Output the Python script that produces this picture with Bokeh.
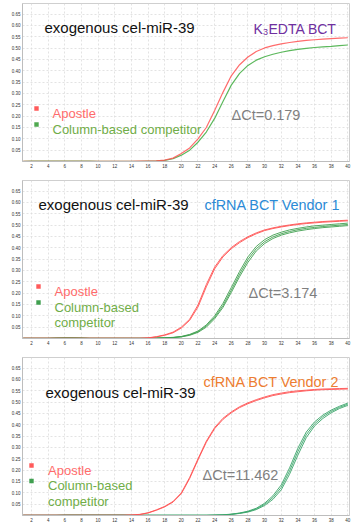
import math
from bokeh.plotting import figure
from bokeh.models import Range1d, Label, FixedTicker, BoxAnnotation
from bokeh.layouts import column
from bokeh.embed import file_html
from bokeh.resources import INLINE

# ---------------- data ----------------
cycles = list(range(1, 41))
x_ticks = list(range(2, 41, 2))
y_ticks = [0.05, 0.10, 0.15, 0.20, 0.25, 0.30, 0.35, 0.40, 0.45, 0.50, 0.55, 0.60, 0.65]

# Panel 1: K3EDTA BCT
p1_apostle = [0.001, 0.001, 0.001, 0.001, 0.001, 0.001, 0.001, 0.001, 0.001, 0.001,
              0.001, 0.001, 0.001, 0.001, 0.002, 0.002, 0.003, 0.006, 0.015, 0.035,
              0.060, 0.100, 0.150, 0.225, 0.305, 0.378, 0.427, 0.461, 0.485, 0.501,
              0.511, 0.519, 0.525, 0.530, 0.534, 0.537, 0.540, 0.542, 0.544, 0.546]
p1_column = [0.001, 0.002, 0.002, 0.002, 0.002, 0.002, 0.002, 0.002, 0.002, 0.001,
             0.001, 0.001, 0.001, 0.001, 0.001, 0.002, 0.003, 0.005, 0.012, 0.028,
             0.050, 0.085, 0.130, 0.190, 0.265, 0.337, 0.389, 0.424, 0.447, 0.462,
             0.473, 0.482, 0.489, 0.495, 0.499, 0.503, 0.506, 0.508, 0.511, 0.514]

# Panel 2: cfRNA BCT Vendor 1
p2_apostle_a = [0.001, 0.001, 0.001, 0.001, 0.001, 0.001, 0.001, 0.001, 0.001, 0.001,
                0.001, 0.001, 0.001, 0.001, 0.001, 0.003, 0.008, 0.016, 0.028, 0.050,
                0.085, 0.148, 0.238, 0.315, 0.366, 0.401, 0.428, 0.449, 0.466, 0.479,
                0.488, 0.495, 0.501, 0.506, 0.510, 0.513, 0.516, 0.518, 0.520, 0.522]
p2_apostle_b = [0.001, 0.001, 0.001, 0.001, 0.001, 0.001, 0.001, 0.001, 0.001, 0.001,
                0.001, 0.001, 0.001, 0.001, 0.001, 0.002, 0.007, 0.014, 0.025, 0.046,
                0.080, 0.139, 0.228, 0.307, 0.360, 0.396, 0.423, 0.445, 0.462, 0.476,
                0.485, 0.492, 0.498, 0.503, 0.507, 0.510, 0.513, 0.515, 0.517, 0.519]
p2_column_a = [0.001, 0.001, 0.001, 0.001, 0.002, 0.003, 0.003, 0.002, 0.001, 0.001,
               0.001, 0.001, 0.001, 0.001, 0.001, 0.001, 0.002, 0.003, 0.005, 0.009,
               0.018, 0.033, 0.060, 0.100, 0.155, 0.225, 0.296, 0.360, 0.406, 0.436,
               0.456, 0.469, 0.479, 0.486, 0.492, 0.497, 0.500, 0.503, 0.506, 0.509]
p2_column_b = [0.001, 0.001, 0.001, 0.001, 0.002, 0.003, 0.003, 0.002, 0.001, 0.001,
               0.001, 0.001, 0.001, 0.001, 0.001, 0.001, 0.002, 0.003, 0.004, 0.008,
               0.016, 0.030, 0.055, 0.093, 0.145, 0.213, 0.284, 0.348, 0.396, 0.427,
               0.448, 0.462, 0.472, 0.480, 0.486, 0.490, 0.494, 0.497, 0.500, 0.503]
p2_column_c = [0.001, 0.001, 0.001, 0.001, 0.002, 0.002, 0.002, 0.002, 0.001, 0.001,
               0.001, 0.001, 0.001, 0.001, 0.001, 0.001, 0.002, 0.003, 0.004, 0.007,
               0.014, 0.027, 0.050, 0.087, 0.137, 0.203, 0.273, 0.336, 0.386, 0.419,
               0.441, 0.456, 0.466, 0.474, 0.480, 0.485, 0.489, 0.492, 0.495, 0.498]

# Panel 3: cfRNA BCT Vendor 2
p3_apostle_a = [0.001, 0.001, 0.001, 0.001, 0.001, 0.001, 0.001, 0.001, 0.001, 0.001,
                0.001, 0.001, 0.001, 0.002, 0.005, 0.012, 0.025, 0.040, 0.062, 0.100,
                0.168, 0.250, 0.328, 0.388, 0.429, 0.457, 0.480, 0.497, 0.511, 0.523,
                0.533, 0.540, 0.546, 0.550, 0.553, 0.556, 0.558, 0.559, 0.560, 0.561]
p3_apostle_b = [0.001, 0.001, 0.001, 0.001, 0.001, 0.001, 0.001, 0.001, 0.001, 0.001,
                0.001, 0.001, 0.001, 0.002, 0.004, 0.011, 0.023, 0.038, 0.059, 0.096,
                0.163, 0.245, 0.323, 0.383, 0.424, 0.453, 0.476, 0.493, 0.507, 0.519,
                0.529, 0.536, 0.542, 0.546, 0.550, 0.553, 0.555, 0.556, 0.557, 0.558]
p3_column_a = [0.001, 0.001, 0.001, 0.001, 0.001, 0.002, 0.002, 0.002, 0.002, 0.002,
               0.002, 0.002, 0.002, 0.001, 0.001, 0.001, 0.001, 0.001, 0.001, 0.001,
               0.001, 0.001, 0.001, 0.002, 0.003, 0.006, 0.011, 0.019, 0.032, 0.054,
               0.087, 0.135, 0.210, 0.297, 0.368, 0.413, 0.443, 0.465, 0.482, 0.496]
p3_column_b = [0.001, 0.001, 0.001, 0.001, 0.001, 0.002, 0.002, 0.002, 0.002, 0.002,
               0.002, 0.002, 0.002, 0.001, 0.001, 0.001, 0.001, 0.001, 0.001, 0.001,
               0.001, 0.001, 0.001, 0.002, 0.003, 0.005, 0.010, 0.017, 0.029, 0.049,
               0.079, 0.124, 0.196, 0.282, 0.356, 0.404, 0.436, 0.459, 0.477, 0.491]
p3_column_c = [0.001, 0.001, 0.001, 0.001, 0.001, 0.001, 0.001, 0.001, 0.001, 0.001,
               0.001, 0.001, 0.001, 0.001, 0.001, 0.001, 0.001, 0.001, 0.001, 0.001,
               0.001, 0.001, 0.001, 0.001, 0.002, 0.005, 0.009, 0.015, 0.026, 0.044,
               0.071, 0.113, 0.182, 0.266, 0.343, 0.395, 0.428, 0.453, 0.472, 0.486]

titles = ["exogenous cel-miR-39"] * 3
conditions = ["EDTA BCT", "cfRNA BCT Vendor 1", "cfRNA BCT Vendor 2"]
delta_ct = ["ΔCt=0.179", "ΔCt=3.174", "ΔCt=11.462"]
legend_names = ["Apostle", "Column-based competitor"]
x_title = "Cycle"
y_title = "ΔRn"

# ---------------- layout constants ----------------
W, H = 352, 177
FL, FR, FT, FB = 22, 349, 3, 161       # frame edges in panel-local pixels
XR = (0.92, 40.2)
YR = (0.0, 0.697)
FONT = "Liberation Sans"


def dx(px):
    return XR[0] + (px - FL) * (XR[1] - XR[0]) / (FR - FL)


def dy(py):
    return YR[0] + (FB - py) * (YR[1] - YR[0]) / (FB - FT)


def txt(p, x, y, text, size, color, align="left", baseline="alphabetic", angle=0.0):
    p.add_layout(Label(x=dx(x), y=dy(y), text=text, text_font=FONT,
                       text_font_size=f"{size}px", text_color=color,
                       text_align=align, text_baseline=baseline, angle=angle))


def square(p, cx, cy, color, s=2.2):
    p.add_layout(BoxAnnotation(left=dx(cx - s), right=dx(cx + s),
                               bottom=dy(cy + s), top=dy(cy - s),
                               fill_color=color, fill_alpha=1.0, line_alpha=0.0))


def make_panel():
    p = figure(width=W, height=H, output_backend="svg", toolbar_location=None,
               x_range=Range1d(*XR), y_range=Range1d(*YR),
               min_border_left=FL, min_border_right=W - FR,
               min_border_top=FT, min_border_bottom=H - FB)
    p.outline_line_color = "#cfcfcf"
    p.background_fill_color = "white"
    p.border_fill_color = "white"
    for ax in (p.xaxis[0], p.yaxis[0]):
        ax.major_label_text_font = FONT
        ax.major_label_text_font_size = "4.5px"
        ax.major_label_text_color = "#333333"
        ax.axis_line_color = "#bdbdbd"
        ax.major_tick_line_color = None
        ax.minor_tick_line_color = None
        ax.major_tick_out = 0
        ax.major_tick_in = 0
        ax.minor_tick_out = 0
        ax.minor_tick_in = 0
        ax.major_label_standoff = 2
        ax.axis_label = None
    p.xaxis.ticker = FixedTicker(ticks=x_ticks)
    p.yaxis.ticker = FixedTicker(ticks=y_ticks)
    p.xaxis.major_label_overrides = {t: str(t) for t in x_ticks}
    p.yaxis.major_label_overrides = {t: f"{t:.2f}" for t in y_ticks}
    for g in (p.xgrid[0], p.ygrid[0]):
        g.grid_line_color = "#dcdcdc"
        g.grid_line_dash = "2 2"
        g.grid_line_width = 0.8
    p.xgrid.ticker = FixedTicker(ticks=x_ticks)
    p.ygrid.ticker = FixedTicker(ticks=y_ticks)
    # axis titles drawn in the border area
    txt(p, (FL + FR) / 2, 171.5, x_title, 5, "#333333", align="center", baseline="middle")
    txt(p, 5.5, 82, y_title, 5, "#333333", align="center", baseline="middle",
        angle=math.pi / 2)
    return p


RED = "#ff5252"
RED_TXT = "#ff6b6b"
GREEN_TXT = "#70ad47"

# ---------- panel 1 ----------
p1 = make_panel()
p1.line(cycles, p1_column, line_color="#5cb85c", line_width=1.2)
p1.line(cycles, p1_apostle, line_color=RED, line_width=1.2, line_alpha=0.85)
txt(p1, 44, 26.5, titles[0], 15, "#111111")
txt(p1, 253, 28, "K", 14, "#7030a0")
txt(p1, 262.5, 31.5, "3", 9, "#7030a0")
txt(p1, 268, 28, conditions[0], 14, "#7030a0")
square(p1, 36, 108, "#ff5a5a")
txt(p1, 52, 112.5, legend_names[0], 13, RED_TXT)
square(p1, 36, 124, "#4fa84f")
txt(p1, 52, 128.5, legend_names[1], 13, GREEN_TXT)
txt(p1, 231, 114.5, delta_ct[0], 14.5, "#7f7f7f")

# ---------- panel 2 ----------
p2 = make_panel()
for s in (p2_column_a, p2_column_b, p2_column_c):
    p2.line(cycles, s, line_color="#3f9f4f", line_width=0.9)
for s in (p2_apostle_a, p2_apostle_b):
    p2.line(cycles, s, line_color=RED, line_width=0.9)
txt(p2, 38, 27, titles[1], 15, "#111111")
txt(p2, 204, 27.3, conditions[1], 14.4, "#2b8ad6")
square(p2, 38, 109, "#ff5a5a")
txt(p2, 54, 113.7, legend_names[0], 13, RED_TXT)
square(p2, 38, 125, "#3f9f4f")
txt(p2, 54, 129.5, "Column-based", 13, GREEN_TXT)
txt(p2, 54, 145, "competitor", 13, GREEN_TXT)
txt(p2, 248, 115.5, delta_ct[1], 14.5, "#7f7f7f")

# ---------- panel 3 ----------
p3 = make_panel()
for s in (p3_column_a, p3_column_b, p3_column_c):
    p3.line(cycles, s, line_color="#3aa56a", line_width=0.9)
for s in (p3_apostle_a, p3_apostle_b):
    p3.line(cycles, s, line_color=RED, line_width=0.9)
txt(p3, 45, 37.7, titles[2], 15, "#111111")
txt(p3, 203, 27.7, conditions[2], 14.4, "#ed7d31")
square(p3, 31, 111, "#ff5a5a")
txt(p3, 47.5, 115.5, legend_names[0], 13, RED_TXT)
square(p3, 31, 126.5, "#3f9f4f")
txt(p3, 47.5, 131, "Column-based", 13, GREEN_TXT)
txt(p3, 47.5, 146.5, "competitor", 13, GREEN_TXT)
txt(p3, 202, 120.5, delta_ct[2], 14.5, "#7f7f7f")

page = column(p1, p2, p3, spacing=0)
open("out.html", "w").write(file_html(page, INLINE))
